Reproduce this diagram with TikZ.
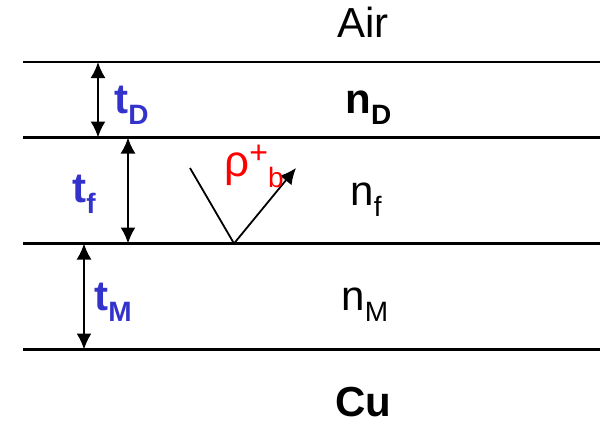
\documentclass[tikz,border=0pt]{standalone}
\usepackage{fontspec}
\setmainfont{Liberation Sans}
\usetikzlibrary{arrows.meta}
\definecolor{tblue}{HTML}{3333CC}
\definecolor{tred}{HTML}{FF0000}
\newcommand{\lsub}[1]{\raisebox{-5.5pt}{\fontsize{14}{14}\selectfont #1}}
\newcommand{\lsup}[1]{\raisebox{6.5pt}{\fontsize{16}{16}\selectfont #1}}

\begin{document}
\begin{tikzpicture}[x=0.5pt, y=-0.5pt, every node/.style={font=\fontsize{21}{25}\selectfont, inner sep=0pt, anchor=base west}, layer/.style={line width=1.2pt}, dim/.style={{Latex[length=8pt,width=7.5pt]}-{Latex[length=8pt,width=7.5pt]}, line width=1pt}, ray/.style={line width=0.9pt}, thk/.style={font=\fontsize{21}{25}\selectfont\bfseries, text=tblue}]
\useasboundingbox (0,0) rectangle (600,423);
% interfaces
\coordinate (l0) at (23,62);    \coordinate (r0) at (600,62);
\coordinate (l1) at (23,137.5); \coordinate (r1) at (600,137.5);
\coordinate (l2) at (23,243.5); \coordinate (r2) at (600,243.5);
\coordinate (l3) at (23,349.5); \coordinate (r3) at (600,349.5);
\draw[layer] (l0)--(r0);
\draw[layer] (l1)--(r1);
\draw[layer] (l2)--(r2);
\draw[layer] (l3)--(r3);
% media
\node (air) at (337,37) {Air};
\node (nD) at (345,113) {\textbf{n\lsub{D}}};
\node (nf) at (350,205) {n\lsub{f}};
\node (nM) at (341,310) {n\lsub{M}};
\node (cu) at (335,416) {\textbf{Cu}};
% thicknesses
\coordinate (dD1) at (98,62);   \coordinate (dD2) at (98,137.5);
\coordinate (df1) at (128,137.5); \coordinate (df2) at (128,243.5);
\coordinate (dM1) at (84,243.5);  \coordinate (dM2) at (84,349.5);
\draw[dim] (dD1)--(dD2);
\draw[dim] (df1)--(df2);
\draw[dim] (dM1)--(dM2);
\node[thk] (tD) at (114,113) {t\lsub{D}};
\node[thk] (tf) at (72,202) {t\lsub{f}};
\node[thk] (tM) at (94,310) {t\lsub{M}};
% reflection
\coordinate (vtop) at (190,168);
\coordinate (vhit) at (234,243.5);
\coordinate (vtip) at (296,168);
\draw[ray] (vtop)--(vhit);
\draw[ray,-{Latex[length=8pt,width=7.5pt]}] (vhit)--(vtip);
\node[text=tred,font=\fontsize{22}{26}\selectfont] (rho) at (224,176) {ρ\lsup{+}\lsub{b}};
\end{tikzpicture}
\end{document}
